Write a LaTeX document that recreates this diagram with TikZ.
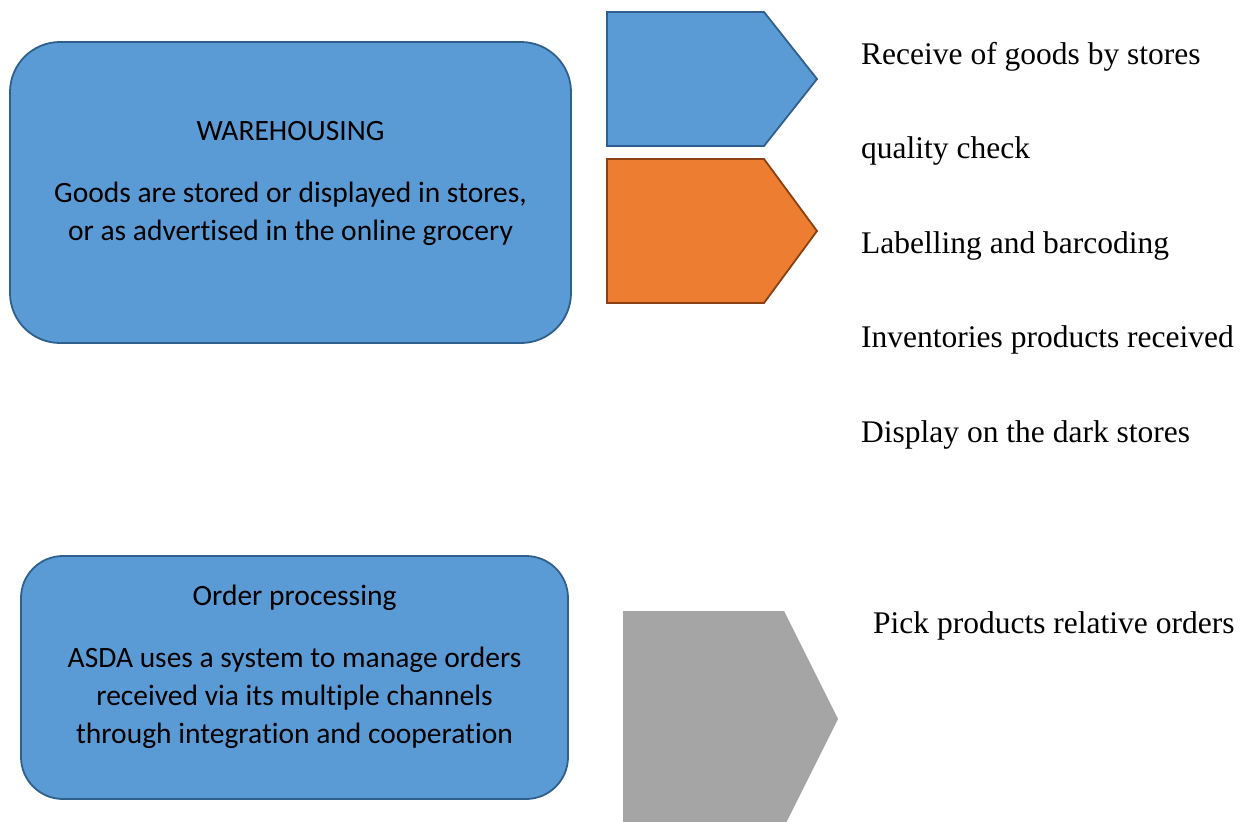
\documentclass[tikz,border=0pt]{standalone}
\usepackage{fontspec}
\setmainfont{Liberation Serif}
\newfontfamily\boxfont{Carlito}[Ligatures=NoCommon, Contextuals=NoAlternate]
\definecolor{accblue}{HTML}{5B9BD5}
\definecolor{accblueline}{HTML}{2F5F8C}
\definecolor{accorange}{HTML}{ED7D31}
\definecolor{accorangeline}{HTML}{8A4010}
\definecolor{accgrey}{HTML}{A5A5A5}
\begin{document}
\begin{tikzpicture}[x=1pt,y=-1pt,
  stagebox/.style={draw=accblueline, fill=accblue, line width=1.8pt, inner sep=0pt},
  boxtext/.style={font=\boxfont\fontsize{29.5}{38}\selectfont, align=center, inner sep=0pt, anchor=base},
  steptext/.style={font=\fontsize{31.5}{36}\selectfont, inner sep=0pt, anchor=base west},
  arrowshape/.style={line width=1.8pt, line join=miter}]
\useasboundingbox (0,0) rectangle (1251,822);

% stage boxes
\node[stagebox, rounded corners=50pt, minimum width=561pt, minimum height=301pt] (ware) at (290.5,192.5) {};
\node[stagebox, rounded corners=42pt, minimum width=547pt, minimum height=243pt] (order) at (294.5,677.5) {};

% texts inside the boxes (a multi-line node sits on the baseline of its last line)
\node[boxtext] (waretitle) at (290.5,140) {WAREHOUSING};
\node[boxtext] (warebody) at (290.5,240) {Goods are stored or displayed in stores,\\or as advertised in the online grocery};
\node[boxtext] (ordertitle) at (294.5,605) {Order processing};
\node[boxtext] (orderbody) at (294.5,743) {ASDA uses a system to manage orders\\received via its multiple channels\\through integration and cooperation};

% pentagon arrows
\draw[arrowshape, draw=accblueline, fill=accblue]
  (607,12) -- (764,12) -- (817,79) -- (764,146) -- (607,146) -- cycle;
\draw[arrowshape, draw=accorangeline, fill=accorange]
  (607,159) -- (764,159) -- (817,231) -- (764,303) -- (607,303) -- cycle;
\fill[accgrey]
  (623,611) -- (784,611) -- (838,719) -- (784,827) -- (623,827) -- cycle;

% step lists
\node[steptext] (s1) at (861,64) {Receive of goods by stores};
\node[steptext] (s2) at (861,158.5) {quality check};
\node[steptext] (s3) at (861,253) {Labelling and barcoding};
\node[steptext] (s4) at (861,347.5) {Inventories products received};
\node[steptext] (s5) at (861,442) {Display on the dark stores};
\node[steptext] (p1) at (873,633) {Pick products relative orders};
\end{tikzpicture}
\end{document}
